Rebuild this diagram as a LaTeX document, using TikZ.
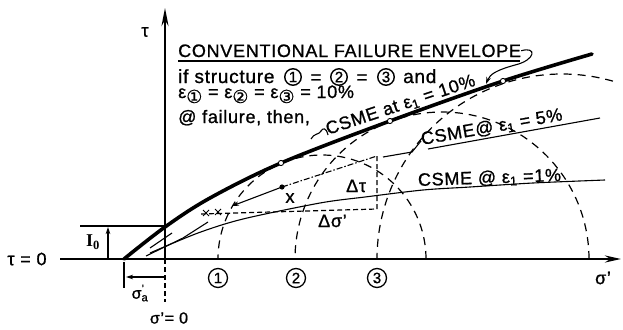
\documentclass[tikz,border=0pt]{standalone}
\usepackage{fontspec}
\setmainfont{Liberation Sans}[LetterSpace=4, FakeBold=1.0]
\newfontfamily\circfont{DejaVu Sans}[FakeBold=0.6]
\newfontfamily\serfont{Liberation Serif}
\usetikzlibrary{arrows.meta}
\newcommand{\csub}[1]{\raisebox{-5pt}{\circfont\fontsize{18}{18}\selectfont #1}}
\tikzset{
  axisline/.style={line width=2.4pt},
  envline/.style={line width=3.6pt, line cap=round},
  thinline/.style={line width=1.1pt},
  mohr/.style={line width=1.2pt, dash pattern=on 8pt off 6pt},
  boxdash/.style={line width=1.2pt, dash pattern=on 5pt off 3pt},
  txt/.style={inner sep=0pt, font=\fontsize{18}{18}\selectfont},
  bodytxt/.style={inner sep=0pt, font=\fontsize{19}{19}\selectfont},
  small/.style={inner sep=0pt, font=\fontsize{16}{16}\selectfont},
  cnode/.style={circle, draw, line width=1.3pt, inner sep=0pt, minimum size=19pt, font=\fontsize{15}{15}\selectfont},
  inl/.style={circle, draw, line width=1.4pt, inner sep=0pt, minimum size=16.5pt, font=\fontsize{15}{15}\selectfont},
  tipS/.style={-{Stealth[length=7pt,width=4.5pt]}},
}
\begin{document}
\begin{tikzpicture}[x=1pt,y=-1pt]
\useasboundingbox (0,0) rectangle (623,329);

% axes
\draw[axisline,-{Stealth[length=16pt,width=7pt]}] (60,259) -- (621,259);
\draw[axisline,-{Stealth[length=18pt,width=7pt]}] (165,259) -- (165,8);
\draw[thinline, dash pattern=on 5pt off 3pt] (165,259) -- (165,302);

% I0 dimension
\draw[thinline] (80,226) -- (165,226);
\draw[thinline,tipS] (108,259) -- (108,227);
\node[txt] (I0) at (93,242) {\serfont\bfseries I\textsubscript{0}};

% sigma_a dimension
\draw[thinline] (124,262) -- (124,288);
\draw[thinline,tipS] (164,277) -- (126,277);
\node[small] (sa) at (140,293) {σ\rlap{\textsuperscript{’}}\textsubscript{a}};
\node[small] (s0) at (169,318) {σ’= 0};
\node[txt] (t0) at (27,259) {τ = 0};
\node[txt] (tau) at (145,32) {τ};
\node[txt] (sig) at (603,278) {σ’};

% circle labels
\node[cnode] (c1) at (218,278) {1};
\node[cnode] (c2) at (296,278) {2};
\node[cnode] (c3) at (377,278) {3};

% Mohr circles
\draw[mohr] plot[domain=0:180,samples=90] ({322+104*cos(\x)},{259-104*sin(\x)});
\draw[mohr] plot[domain=0:180,samples=90] ({442+147*cos(\x)},{259-147*sin(\x)});
\draw[mohr] plot[domain=74:180,samples=90] ({562+185*cos(\x)},{259-185*sin(\x)});

% conventional failure envelope
\draw[envline] plot[smooth,tension=0.55] coordinates {(124,259) (165,227) (210,198) (281,163) (390,121) (503,81) (592,54)};
\foreach \p in {(281,163),(390,121),(503,81)} \draw[fill=white,line width=0.9pt] \p circle[radius=2.6pt];

% CSME 1%
\draw[thinline] plot[smooth,tension=0.5] coordinates {(150,253) (198,233) (243,219) (320,203) (365,197) (423,190) (470,187) (533,183) (605,180)};
% CSME 5%
\draw[thinline] (146,256) -- (183,238) -- (208,222);
\draw[thinline] (150,248) -- (172,233);
\draw[thinline,tipS] (282,187) -- (232,206);
\fill (282,187) circle[radius=2.6pt];
\draw[thinline, dash pattern=on 6pt off 2pt on 1.5pt off 2pt] (282,187) -- (377,156);
\draw[boxdash] (377,156) -- (377,209) -- (200,214);
\draw[line width=0.9pt] (203,210) -- (209,216) (203,216) -- (209,210) (215,209) -- (221,215) (215,215) -- (221,209);
\draw[thinline] (383,157) -- (412,152) -- (421,141);
\draw[thinline] (428,149) -- (600,118);

\node[txt] (x) at (290,198) {x};
\node[txt,anchor=base west] (dtau) at (346,192) {Δτ};
\node[txt,anchor=base west] (dsig) at (318,227) {Δσ’};

% labels on envelopes
\node[txt,anchor=base west,rotate=18.5] (l10) at (328,135) {CSME at ε\textsubscript{1} = 10\%};
\node[txt,anchor=base west,rotate=10] (l5) at (422,145) {CSME@ ε\textsubscript{1} = 5\%};
\node[txt,anchor=base west,rotate=2] (l1) at (418,186) {CSME @ ε\textsubscript{1} =1\%};

% text block
\node[txt,anchor=base west] (title) at (178,57) {CONVENTIONAL FAILURE ENVELOPE};
\draw[thinline] (178,61) -- (520,61);
\draw[thinline,tipS] (title.east) .. controls (537,46) and (536,60) .. (515,65) .. controls (497,70) and (490,74) .. (486,84);
\node[bodytxt,anchor=base west] (ln2) at (178,83) {if structure};
\node[inl] (i1) at (293,77) {1};
\node[bodytxt] (e1) at (316,79) {=};
\node[inl] (i2) at (339,77) {2};
\node[bodytxt] (e2) at (362,79) {=};
\node[inl] (i3) at (386,77) {3};
\node[bodytxt,anchor=base west] (and) at (403,83) {and};
\node[txt,anchor=base west] (ln3) at (178,98) {ε\csub{①} = ε\csub{②} = ε\csub{③} = 10\%};
\node[txt,anchor=base west] (ln4) at (178,123) {@ failure, then,};
\draw[thinline] (311,139) .. controls (314,133) and (319,135) .. (321,131) .. controls (323,128) and (326,127) .. (l10.base west);
\end{tikzpicture}
\end{document}
